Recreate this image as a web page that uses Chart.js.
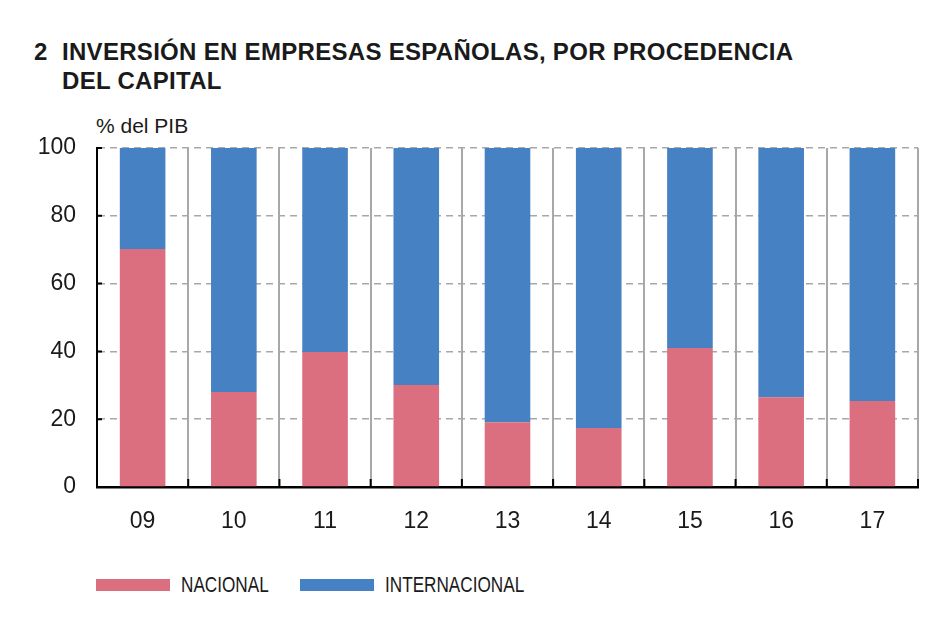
<!DOCTYPE html>
<html>
<head>
<meta charset="utf-8">
<script src="https://cdn.jsdelivr.net/npm/chart.js@4.4.1/dist/chart.umd.min.js"></script>
<style>
	body { margin: 0; background: #fff; font-family: "Liberation Sans", Arial, sans-serif; color: #1a1a1a; }
	#wrap { position: relative; width: 950px; height: 636px; overflow: hidden; }
	#chart { position: absolute; left: 0; top: 0; }
	.title { position: absolute; font-weight: bold; font-size: 24px; letter-spacing: 0.3px; white-space: nowrap; }
	.unit { position: absolute; left: 96px; top: 114px; font-size: 21px; }
	.item { position: absolute; top: 572px; height: 26px; display: flex; align-items: center; }
	.box { width: 74px; height: 12px; margin-right: 11px; }
	.item span { font-size: 22px; display: inline-block; transform: scaleX(0.78); transform-origin: left center; white-space: nowrap; }
</style>
</head>
<body>
<div id="wrap">
	<div class="title" style="left:34px; top:38px">2</div>
	<div class="title" style="left:62px; top:38px">INVERSIÓN EN EMPRESAS ESPAÑOLAS, POR PROCEDENCIA</div>
	<div class="title" style="left:62px; top:67px">DEL CAPITAL</div>
	<div class="unit">% del PIB</div>
	<canvas id="chart" width="950" height="560"></canvas>
</div>
<script>
const years = ["09", "10", "11", "12", "13", "14", "15", "16", "17"]
const nacional = [70.2, 28, 39.8, 30.1, 19.1, 17.4, 41, 26.5, 25.4]
const internacional = [29.8, 72, 60.2, 69.9, 80.9, 82.6, 59, 73.5, 74.6]
const yTicks = [0, 20, 40, 60, 80, 100]

const seriesNames = ["NACIONAL", "INTERNACIONAL"]
const seriesColors = ["#db6e7f", "#4681c3"]
const legendX = [96, 300]

// short black ticks on the axes (inside the plot)
const axisTicks = {
	id: "axisTicks",
	afterDraw: (c) => {
		const { ctx, scales, chartArea } = c
		ctx.save()
		ctx.strokeStyle = "#000"
		ctx.lineWidth = 2
		ctx.beginPath()
		for (let i = 0; i <= years.length; i++) {
			const x = scales.x.getPixelForValue(i - 0.5)
			ctx.moveTo(x, chartArea.bottom)
			ctx.lineTo(x, chartArea.bottom - 8)
		}
		yTicks.forEach((v) => {
			const y = scales.y.getPixelForValue(v)
			ctx.moveTo(chartArea.left, y)
			ctx.lineTo(chartArea.left + 5, y)
		})
		ctx.stroke()
		ctx.restore()
	},
}

const ctx = document.getElementById("chart").getContext("2d")

new Chart(ctx, {
	type: "bar",
	data: {
		labels: years,
		datasets: [
			{ label: seriesNames[0], data: nacional, backgroundColor: seriesColors[0] },
			{ label: seriesNames[1], data: internacional, backgroundColor: seriesColors[1] },
		],
	},
	options: {
		responsive: false,
		animation: false,
		devicePixelRatio: 1,
		barPercentage: 1,
		categoryPercentage: 0.5,
		layout: { padding: { top: 148, right: 32, bottom: 13, left: 0 } },
		plugins: { legend: { display: false }, tooltip: { enabled: false } },
		scales: {
			x: {
				stacked: true,
				grid: { offset: true, color: "#a8a8a8", lineWidth: 2, drawTicks: false },
				border: { color: "#000", width: 2.5 },
				ticks: { color: "#1a1a1a", padding: 21, font: { family: "Liberation Sans", size: 23 } },
				afterFit: (scale) => { scale.height = 60 },
			},
			y: {
				stacked: true,
				min: 0,
				max: 100,
				afterBuildTicks: (scale) => { scale.ticks = yTicks.map((v) => ({ value: v })) },
				grid: { color: "#a8a8a8", lineWidth: 1.5, drawTicks: false },
				border: { color: "#000", width: 2, dash: [7, 5] },
				ticks: { color: "#1a1a1a", padding: 21, font: { family: "Liberation Sans", size: 23 } },
				afterFit: (scale) => { scale.width = 97 },
			},
		},
	},
	plugins: [axisTicks],
})

const wrap = document.getElementById("wrap")
seriesNames.forEach((name, i) => {
	const item = document.createElement("div")
	item.className = "item"
	item.style.left = legendX[i] + "px"
	item.innerHTML = '<div class="box" style="background:' + seriesColors[i] + '"></div><span>' + name + "</span>"
	wrap.appendChild(item)
})
</script>
</body>
</html>
